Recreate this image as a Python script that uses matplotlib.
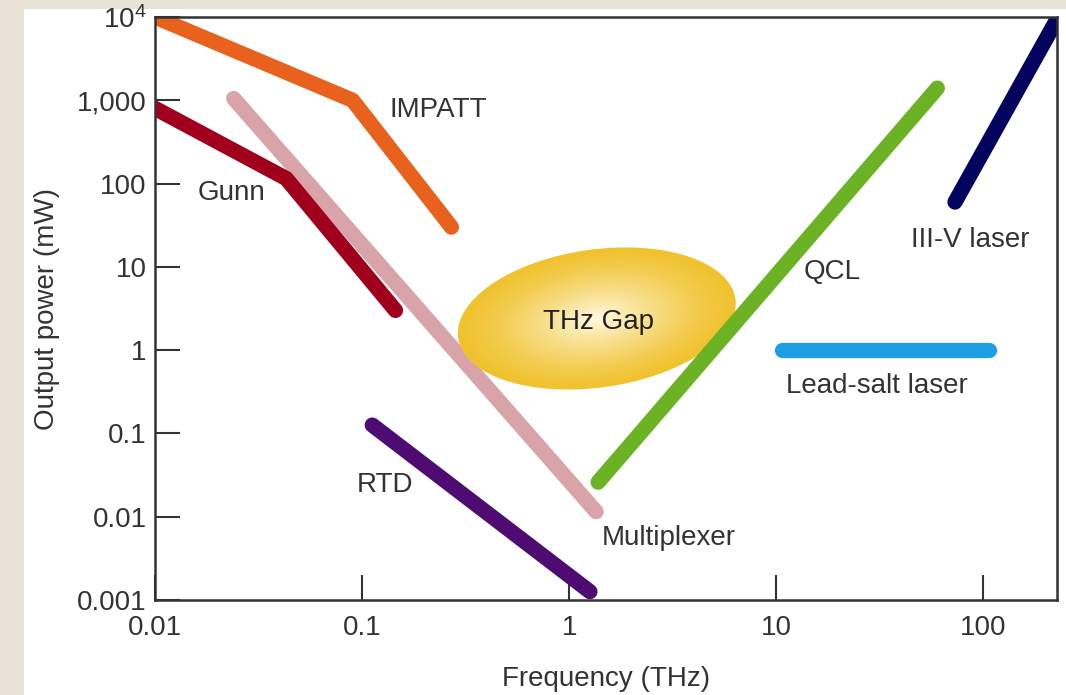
import matplotlib.pyplot as plt
import matplotlib.transforms as mtransforms
from matplotlib.patches import Ellipse, Rectangle
import numpy as np

plt.rcParams['font.family'] = ['Liberation Sans', 'DejaVu Sans']
plt.rcParams['mathtext.fontset'] = 'custom'
plt.rcParams['mathtext.rm'] = 'Liberation Sans'

# source curves, frequency in THz and output power in mW
impatt_f = [0.01, 0.09, 0.27]
impatt_p = [10000, 1000, 30]
gunn_f = [0.01, 0.043, 0.145]
gunn_p = [800, 115, 3.0]
mult_f = [0.024, 1.35]
mult_p = [1050, 0.0115]
rtd_f = [0.112, 1.26]
rtd_p = [0.126, 0.00126]
qcl_f = [1.38, 60]
qcl_p = [0.026, 1400]
iiiv_f = [73, 240]
iiiv_p = [60, 12000]
leadsalt_f = [10.7, 106]
leadsalt_p = [1.0, 1.0]

gap_f, gap_p = 1.36, 2.4

xticks = [0.01, 0.1, 1, 10, 100]
xticklabels = ['0.01', '0.1', '1', '10', '100']
yticks = [0.001, 0.01, 0.1, 1, 10, 100, 1000, 10000]
yticklabels = ['0.001', '0.01', '0.1', '1', '10', '100', '1,000', r'$\mathregular{10^4}$']

txt = '#333333'

fig = plt.figure(figsize=(10.66, 6.95), dpi=100)
fig.patch.set_facecolor('#E8E3D6')
fig.add_artist(Rectangle((24 / 1066, 0), 1 - 24 / 1066, 686 / 695,
                         transform=fig.transFigure, facecolor='white',
                         edgecolor='none', zorder=0))

ax = fig.add_axes([155 / 1066, 95 / 695, 902 / 1066, 583 / 695])
ax.set_xscale('log')
ax.set_yscale('log')
ax.set_xlim(0.01, 227)
ax.set_ylim(0.001, 10000)

lw = 11
kw = dict(solid_capstyle='round', solid_joinstyle='round')
ax.plot(mult_f, mult_p, color='#D8A4A9', lw=lw, zorder=2, **kw)
ax.plot(impatt_f, impatt_p, color='#E8621E', lw=lw, zorder=3, **kw)
ax.plot(gunn_f, gunn_p, color='#A0001C', lw=lw, zorder=3, **kw)
ax.plot(rtd_f, rtd_p, color='#4E0C73', lw=lw, zorder=3, **kw)
ax.plot(qcl_f, qcl_p, color='#6BB324', lw=lw, zorder=6, **kw)
ax.plot(iiiv_f, iiiv_p, color='#04035E', lw=lw, zorder=3, **kw)
ax.plot(leadsalt_f, leadsalt_p, color='#1C9FE5', lw=lw, zorder=3, **kw)

# THz gap ellipse with a radial gradient, drawn in pixel space
fig.canvas.draw()
cx, cy = ax.transData.transform((gap_f, gap_p))
edge = np.array([0.94, 0.76, 0.18])
centre = np.array([1.0, 0.97, 0.86])
n = 40
for i in range(n):
    s = 1 - i / n
    t = (i / (n - 1)) ** 1.3
    col = edge * (1 - t) + centre * t
    e = Ellipse((cx, cy), 280 * s, 138 * s, angle=8,
                transform=mtransforms.IdentityTransform(),
                facecolor=col, edgecolor='none', zorder=4)
    ax.add_artist(e)

ax.text(1.38, 2.18, 'THz Gap', ha='center', va='center', fontsize=20,
        color='#222222', zorder=7)

labels = [
    ('IMPATT', 0.233, 765),
    ('Gunn', 0.0235, 77),
    ('RTD', 0.129, 0.024),
    ('Multiplexer', 3.04, 0.0056),
    ('QCL', 18.7, 8.7),
    ('III-V laser', 86.5, 21),
    ('Lead-salt laser', 30.8, 0.37),
]
for s, x, y in labels:
    ax.text(x, y, s, ha='center', va='center', fontsize=20, color=txt, zorder=8)

ax.set_xticks(xticks)
ax.set_xticklabels(xticklabels)
ax.set_yticks(yticks)
ax.set_yticklabels(yticklabels)
ax.minorticks_off()
ax.tick_params(direction='in', length=18, width=1.5, color='#333333',
               labelsize=20, labelcolor=txt)
ax.tick_params(axis='x', pad=11)
ax.tick_params(axis='y', pad=6)
for sp in ax.spines.values():
    sp.set_color('#333333')
    sp.set_linewidth(1.8)
    sp.set_zorder(9)

ax.set_xlabel('Frequency (THz)', fontsize=20, color=txt, labelpad=18)
ax.set_ylabel('Output power (mW)', fontsize=20, color=txt, labelpad=12)

fig.savefig('out.png', dpi=100, facecolor=fig.get_facecolor())
